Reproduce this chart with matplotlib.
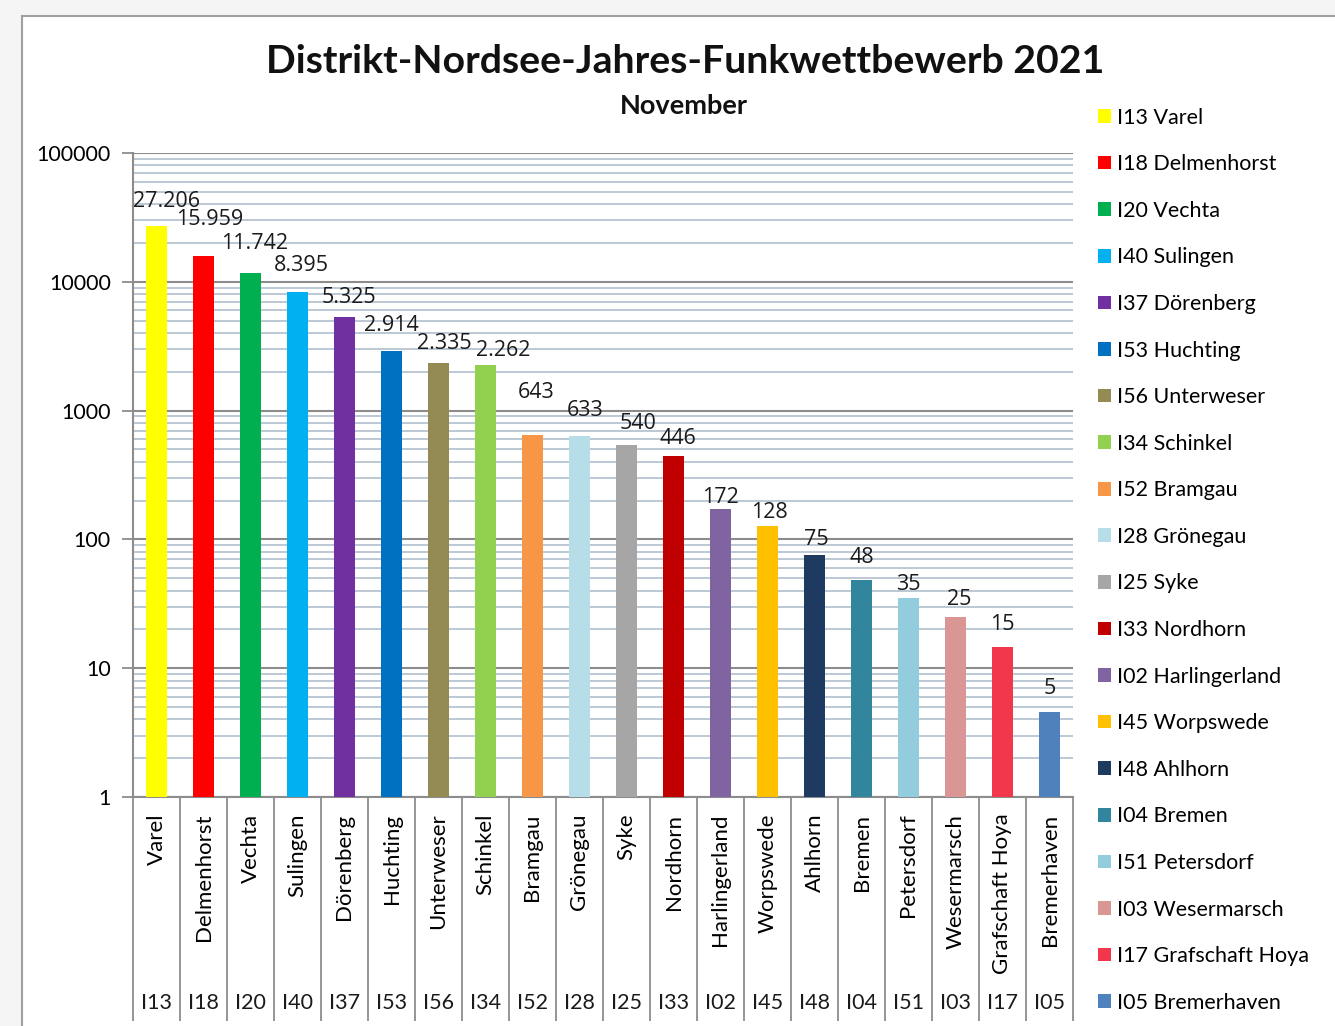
import matplotlib
matplotlib.use("Agg")
import matplotlib.pyplot as plt
from matplotlib.patches import Rectangle
from matplotlib.ticker import LogLocator, FixedLocator, NullFormatter

plt.rcParams['font.family'] = ['Lato', 'DejaVu Sans']

codes = ["I13", "I18", "I20", "I40", "I37", "I53", "I56", "I34", "I52", "I28",
         "I25", "I33", "I02", "I45", "I48", "I04", "I51", "I03", "I17", "I05"]
names = ["Varel", "Delmenhorst", "Vechta", "Sulingen", "Dörenberg", "Huchting",
         "Unterweser", "Schinkel", "Bramgau", "Grönegau", "Syke", "Nordhorn",
         "Harlingerland", "Worpswede", "Ahlhorn", "Bremen", "Petersdorf",
         "Wesermarsch", "Grafschaft Hoya", "Bremerhaven"]
values = [27206, 15959, 11742, 8395, 5325, 2914, 2335, 2262, 643, 633,
          540, 446, 172, 128, 75, 48, 35, 25, 14.6, 4.6]
colors = ["#FFFF00", "#FF0000", "#00B050", "#00B0F0", "#7030A0", "#0070C0",
          "#948A54", "#92D050", "#F79646", "#B7DEE8", "#A6A6A6", "#C00000",
          "#8064A2", "#FFC000", "#1F3A60", "#31859C", "#93CDDD", "#DA9694",
          "#F2364C", "#4F81BD"]
yticks = [1, 10, 100, 1000, 10000, 100000]

# manual data-label nudges (pixels) as placed in the original chart
label_dx = [10, 6, 4, 4, 4, 0, 6, 18, 4, 6, 12, 4, 0, 2, 2, 0, 0, 4, 0, 0]
label_dy = [24, 36, 29, 26, 20, 25, 20, 14, 43, 26, 22, 17, 12, 13, 16, 23, 14, 17, 23, 23]

W, H = 1335, 1026
fig = plt.figure(figsize=(W / 100, H / 100), dpi=100, facecolor="#F5F5F5")

# chart area frame
frame = Rectangle((22 / W, -0.05), 1.1, 1 - 16 / H + 0.05,
                  transform=fig.transFigure, facecolor="white",
                  edgecolor="#A0A0A0", linewidth=1.5, zorder=-10)
fig.patches.append(frame)

L, R, T, B = 133, 1073, 153, 797
ax = fig.add_axes([L / W, 1 - B / H, (R - L) / W, (B - T) / H])
ax.set_facecolor("none")
ax.set_zorder(2)

x = list(range(len(values)))
bars = ax.bar(x, values, width=0.45, color=colors, zorder=3)

ax.set_yscale("log")
ax.set_ylim(1, 100000)
ax.set_xlim(-0.5, len(values) - 0.5)
ax.yaxis.set_major_locator(FixedLocator(yticks))
ax.set_yticklabels([str(v) for v in yticks])
ax.yaxis.set_minor_locator(LogLocator(base=10, subs=range(2, 10)))
ax.yaxis.set_minor_formatter(NullFormatter())
ax.grid(which="minor", axis="y", color="#B8C4D2", linewidth=1.3, zorder=1)
ax.grid(which="major", axis="y", color="#8C8C8C", linewidth=1.5, zorder=1)
ax.tick_params(axis="y", which="minor", length=0)
ax.tick_params(axis="y", which="major", length=8, width=1.3, color="#8C8C8C",
               labelsize=15.5, pad=8)

for s in ["top", "right"]:
    ax.spines[s].set_visible(False)
for s in ["left", "bottom"]:
    ax.spines[s].set_color("#8C8C8C")
    ax.spines[s].set_linewidth(1.5)

# category axis: names + separators
ax.set_xticks(x)
ax.set_xticklabels(names, rotation=90, fontsize=16)
ax.tick_params(axis="x", which="major", length=0, pad=12)
ax.set_xticks([i - 0.5 for i in range(len(values) + 1)], minor=True)
ax.tick_params(axis="x", which="minor", length=161, width=1.3, color="#8C8C8C",
               direction="out")

for xi, c in zip(x, codes):
    ax.annotate(c, xy=(xi, 0), xycoords=("data", "axes fraction"),
                xytext=(0, -148), textcoords="offset points",
                ha="center", va="center", fontsize=15.5, color="#1a1a1a",
                annotation_clip=False)

# data labels
for xi, v, dx, dy in zip(x, values, label_dx, label_dy):
    lbl = f"{v:,.0f}".replace(",", ".")
    ax.annotate(lbl, xy=(xi, v), xytext=(dx, dy), textcoords="offset pixels",
                ha="center", va="center", fontsize=15.5, color="#1a1a1a",
                family=["Open Sans", "DejaVu Sans"], zorder=5)

fig.text(685 / W, 1 - 62 / H, "Distrikt-Nordsee-Jahres-Funkwettbewerb 2021",
         ha="center", va="center", fontsize=28.3, fontweight="bold", color="#111111")
fig.text(684 / W, 1 - 106 / H, "November", ha="center", va="center",
         fontsize=19.5, fontweight="bold", color="#111111")

fig.legend(bars, [f"{c} {n}" for c, n in zip(codes, names)],
           loc="upper left", bbox_to_anchor=(1089 / W, 1 - 99 / H),
           frameon=False, fontsize=15.5, handlelength=0.6, handleheight=0.6,
           handletextpad=0.3, labelspacing=1.235, borderaxespad=0)

fig.savefig("out.png", dpi=100, facecolor=fig.get_facecolor())
